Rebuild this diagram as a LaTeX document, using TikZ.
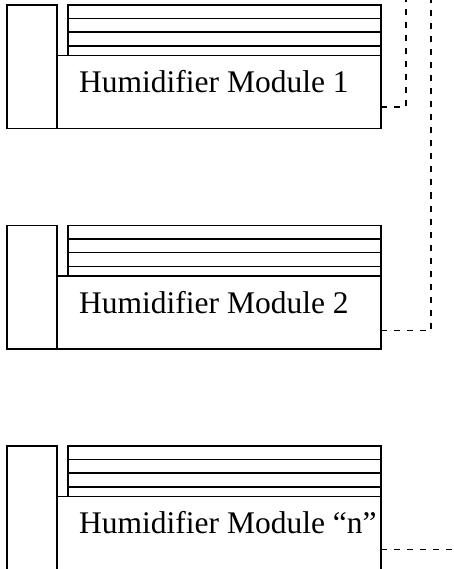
\documentclass[tikz,border=0pt]{standalone}
\usepackage{fontspec}
\setmainfont{Liberation Serif}
\begin{document}
\begin{tikzpicture}[x=1pt,y=-1pt,
  part/.style={draw,line width=1.8pt,outer sep=0pt,inner sep=0pt,anchor=north west},
  label/.style={anchor=base west,inner sep=0pt,font=\fontsize{31.5}{36}\selectfont},
  conn/.style={draw,line width=1.4pt,dash pattern=on 6pt off 7pt}]
\useasboundingbox (0,0) rectangle (453,569);
\clip (0,0) rectangle (453,569);
% ---- Module 1
\node[part,minimum width=50pt,minimum height=123.5pt] (l1) at (7,5) {};
\node[part,minimum width=313pt,minimum height=13.5pt] (s1a) at (68,5) {};
\node[part,minimum width=313pt,minimum height=13.5pt] (s1b) at (68,18.5) {};
\node[part,minimum width=313pt,minimum height=14pt] (s1c) at (68,32) {};
\node[part,minimum width=313pt,minimum height=9.5pt] (s1d) at (68,46) {};
\node[part,minimum width=324pt,minimum height=73pt,fill=white] (m1) at (57,55.5) {};
\node[label] (t1) at (79,93) {Humidifier Module 1};
% ---- Module 2
\node[part,minimum width=50pt,minimum height=123.5pt] (l2) at (7,225.5) {};
\node[part,minimum width=313pt,minimum height=13.5pt] (s2a) at (68,225.5) {};
\node[part,minimum width=313pt,minimum height=13.5pt] (s2b) at (68,239) {};
\node[part,minimum width=313pt,minimum height=14pt] (s2c) at (68,252.5) {};
\node[part,minimum width=313pt,minimum height=9.5pt] (s2d) at (68,266.5) {};
\node[part,minimum width=324pt,minimum height=73pt,fill=white] (m2) at (57,276) {};
\node[label] (t2) at (79,313) {Humidifier Module 2};
% ---- Module n
\node[part,minimum width=50pt,minimum height=130pt] (l3) at (7,446) {};
\node[part,minimum width=313pt,minimum height=13.5pt] (s3a) at (68,446) {};
\node[part,minimum width=313pt,minimum height=13.5pt] (s3b) at (68,459.5) {};
\node[part,minimum width=313pt,minimum height=14pt] (s3c) at (68,473) {};
\node[part,minimum width=313pt,minimum height=9.5pt] (s3d) at (68,487) {};
\node[part,minimum width=324pt,minimum height=80pt,fill=white] (m3) at (57,496.5) {};
\node[label] (t3) at (79,533.5) {Humidifier Module “n”};
% ---- connectors
\coordinate (c1) at (406,-2);
\coordinate (c2) at (431,-2);
\coordinate (c3) at (460,549.3);
\draw[conn] ([yshift=-15pt]m1.east) -| (c1);
\draw[conn] ([yshift=-18pt]m2.east) -| (c2);
\draw[conn] (m3.east |- c3) -- (c3);
\end{tikzpicture}
\end{document}
